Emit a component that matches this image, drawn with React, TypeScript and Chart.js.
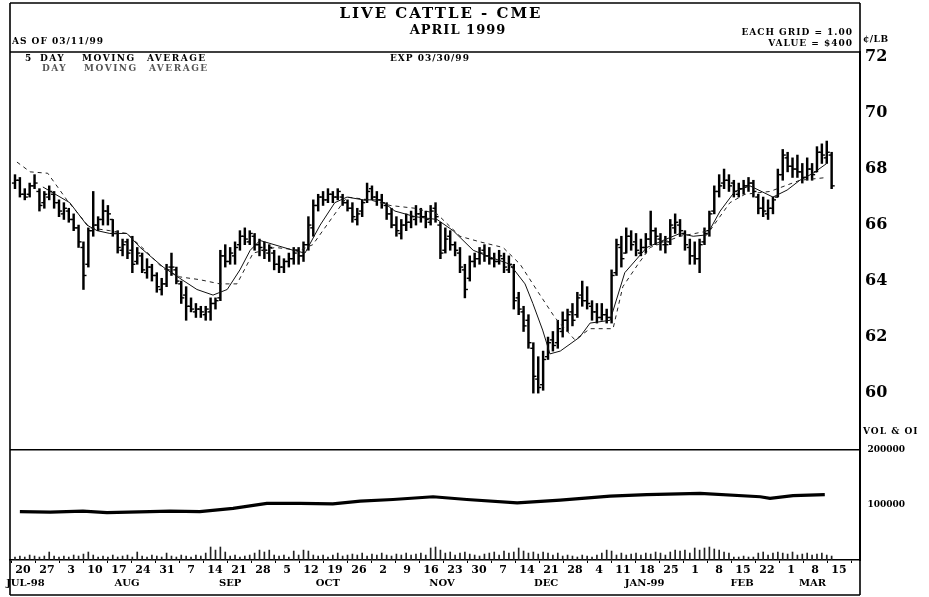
import React, { useEffect, useRef } from 'react';
import { Chart, registerables } from 'chart.js';

Chart.register(...registerables);

const FONT = '"DejaVu Serif", serif';

// ---- Daily OHLC (¢/lb), one entry per trading day, mid-Jul 1998 .. 11 Mar 1999 ----
const priceHigh = [67.8,67.7,67.3,67.5,67.8,67.3,67.2,67.4,67.2,66.9,
66.8,66.6,66.4,66.0,65.4,65.9,67.2,66.3,66.9,66.7,
66.2,65.8,65.5,65.5,65.6,65.2,65.0,64.8,64.6,64.3,
64.1,64.6,65.0,64.5,64.0,63.8,63.4,63.2,63.1,63.1,
63.4,63.4,65.1,65.3,65.2,65.4,65.8,65.9,65.8,65.7,
65.5,65.4,65.3,65.1,64.9,64.8,65.0,65.2,65.2,65.4,
66.3,66.9,67.1,67.2,67.3,67.2,67.3,67.1,66.9,66.8,
66.6,66.9,67.5,67.4,67.2,67.1,66.8,66.6,66.3,66.2,
66.4,66.5,66.7,66.6,66.5,66.7,66.8,66.1,65.9,65.8,
65.4,65.2,64.6,64.9,65.0,65.2,65.3,65.2,65.0,65.1,
65.0,64.9,64.6,63.6,63.1,62.8,61.8,61.3,61.5,62.0,
62.2,62.6,62.9,63.0,63.2,63.6,64.0,63.8,63.3,63.2,
63.2,63.0,64.4,65.5,65.6,65.9,65.8,65.7,65.5,65.7,
66.5,65.9,65.7,65.6,66.2,66.4,66.2,65.8,65.5,65.4,
65.5,65.9,66.5,67.4,67.8,68.0,67.8,67.6,67.5,67.6,
67.7,67.6,67.1,67.0,66.9,67.0,68.0,68.7,68.6,68.4,
68.5,68.2,68.4,68.2,68.8,68.9,69.0,68.6];

const priceLow = [67.3,67.0,66.9,67.0,67.3,66.5,66.6,66.9,66.6,66.3,
66.2,66.1,65.8,65.2,63.7,64.5,65.6,65.8,66.0,66.0,
65.6,65.0,64.9,64.8,64.3,64.6,64.3,64.1,64.0,63.6,
63.5,63.8,64.2,63.9,63.2,62.6,62.9,62.7,62.7,62.6,
62.6,63.0,63.3,64.5,64.6,64.6,65.1,65.3,65.3,65.1,
64.9,64.8,64.7,64.4,64.3,64.3,64.5,64.6,64.6,64.7,
65.1,65.6,66.5,66.7,66.8,66.8,66.9,66.7,66.5,66.1,
66.0,66.3,66.8,66.9,66.7,66.6,66.2,65.9,65.6,65.5,
65.8,65.9,66.0,66.1,65.9,66.0,66.1,64.8,65.0,65.1,
64.9,64.3,63.4,64.0,64.5,64.6,64.7,64.6,64.5,64.6,
64.3,64.3,63.0,62.8,62.2,61.6,60.0,60.0,60.1,61.2,
61.5,61.6,62.0,62.2,62.4,62.7,63.1,63.0,62.6,62.5,
62.6,62.5,62.5,64.2,64.5,65.0,65.1,64.9,64.9,65.0,
65.3,65.3,65.1,65.0,65.3,65.7,65.6,65.1,64.6,64.6,
64.3,65.3,65.6,66.4,67.0,67.3,67.2,67.0,67.0,67.1,
67.2,67.0,66.4,66.3,66.2,66.4,67.0,67.6,67.9,67.7,
67.7,67.5,67.6,67.6,67.9,68.2,68.2,67.3];

const priceOpen = [67.5,67.6,67.1,67.1,67.4,67.2,66.8,67.0,67.1,66.8,
66.4,66.5,66.2,65.9,65.2,64.6,65.8,66.0,66.2,66.5,
66.2,65.7,65.1,65.4,65.1,64.7,64.9,64.3,64.5,64.2,
63.7,63.9,64.5,64.4,63.9,63.5,63.1,62.9,63.0,62.8,
62.9,63.2,63.4,64.9,64.7,64.9,65.3,65.6,65.4,65.6,
65.3,65.1,65.0,65.0,64.6,64.5,64.7,64.8,65.1,64.9,
65.3,65.9,66.7,67.0,66.9,67.1,67.0,67.0,66.8,66.6,
66.2,66.5,66.9,67.3,67.0,66.9,66.7,66.4,66.0,65.7,
66.0,66.1,66.2,66.4,66.3,66.1,66.6,66.0,65.1,65.6,
65.3,65.0,64.4,64.1,64.7,64.8,65.1,64.9,64.8,64.7,
64.8,64.4,64.5,63.4,62.9,62.6,61.6,60.5,60.3,61.3,
61.9,61.8,62.2,62.6,62.9,62.8,63.5,63.3,63.1,62.9,
62.7,62.8,62.7,64.3,65.2,65.0,65.6,65.4,65.0,65.2,
65.5,65.8,65.5,65.3,65.4,65.9,66.0,65.7,65.2,64.9,
64.8,65.4,65.8,66.5,67.2,67.5,67.6,67.5,67.1,67.3,
67.4,67.5,67.0,66.6,66.4,66.6,67.0,67.8,68.4,68.1,
68.0,67.9,67.7,68.0,67.9,68.6,68.4,68.5];

const priceClose = [67.6,67.1,67.0,67.4,67.5,66.7,67.1,67.2,66.8,66.5,
66.6,66.2,65.9,65.4,64.2,65.8,66.0,66.2,66.5,66.4,
65.7,65.2,65.3,65.0,64.6,65.0,64.4,64.5,64.2,63.8,
63.9,64.4,64.5,64.0,63.4,63.1,63.0,63.0,62.9,63.0,
63.2,63.3,64.9,64.7,65.0,65.2,65.6,65.5,65.7,65.3,
65.2,65.1,65.2,64.6,64.5,64.7,64.8,65.0,64.9,65.3,
66.0,66.7,67.0,66.9,67.1,67.0,67.2,66.8,66.6,66.3,
66.4,66.8,67.2,67.0,66.9,66.8,66.4,66.0,65.8,66.0,
66.1,66.3,66.4,66.3,66.2,66.5,66.3,65.0,65.5,65.3,
65.1,64.5,63.7,64.7,64.8,65.0,64.9,64.8,64.7,64.9,
64.5,64.6,63.3,63.0,62.4,61.8,60.6,60.2,61.2,61.8,
61.7,62.3,62.6,62.8,62.6,63.4,63.3,63.2,62.9,62.7,
62.8,62.7,64.2,65.3,64.8,65.6,65.3,65.1,65.2,65.5,
65.8,65.6,65.4,65.3,66.0,66.1,65.8,65.3,64.9,64.8,
65.3,65.7,66.4,67.2,67.4,67.6,67.4,67.2,67.3,67.4,
67.5,67.2,66.6,66.5,66.6,66.9,67.8,68.5,68.1,68.0,
67.9,67.7,68.0,67.8,68.6,68.5,68.6,67.4];

// ---- Daily volume (contracts) ----
const volume = [5400,7200,5400,9000,7200,5400,7200,14500,7200,5400,
7200,5400,9000,7200,10800,14500,9000,5400,7200,5400,
9000,5400,7200,9000,5400,14500,7200,5400,9000,7200,
5400,12600,7200,5400,9000,7200,5400,9000,7200,12600,
23600,18000,23600,14500,7200,9000,5400,7200,9000,12600,
18000,14500,18000,9000,7200,9000,5400,16300,9000,18000,
16300,9000,7200,9000,5400,9000,12600,7200,9000,10800,
9000,12600,7200,10800,9000,12600,9000,7200,10800,9000,
12600,9000,10800,12600,9000,21800,23600,18000,12600,14500,
9000,12600,14500,10800,9000,7200,10800,12600,14500,9000,
16300,12600,14500,21800,16300,12600,14500,10800,14500,12600,
9000,12600,7200,9000,7200,5400,9000,7200,5400,9000,
12600,18000,16300,9000,12600,9000,10800,12600,9000,12600,
10800,14500,12600,9000,14500,18000,16300,18000,12600,21800,
18000,21800,23600,20000,18000,14500,12600,5400,5400,7200,
5400,5400,12600,14500,9000,12600,14500,12600,10800,14500,
9000,10800,12600,9000,10800,12600,9000,7200];

// ---- Open interest, read at sample days ----
const oiDay = [1,7.2,13.9,18.8,27.6,31.7,37.8,44.6,51.5,58.3,65,70.6,77.3,85.5,92.4,102.7,111.5,121.7,129.2,140.1,152.4,154.4,159.1,165.6];
const oiValue = [87800,87000,89000,86000,88000,89000,88000,94000,103000,103000,102000,107000,110000,115000,110000,104000,109000,116000,119000,121000,115000,112000,117000,119000];

// ---- Moving averages, read at sample days ----
const maFastDay = [5.7,11.2,14.7,16.8,19.4,22.9,25.6,30.3,33.7,37.2,40.5,43.4,46,48.1,50.1,56.9,59.3,62.4,65.4,67.9,71.2,74.6,77.7,81.8,86.3,89.6,93.7,96.5,101.2,104.3,105.9,107.9,109.4,111.5,115.5,117.6,121.7,124.7,129.2,132.5,136,138.7,141.5,144.2,147.2,150.3,155,157.9,160.5,163.2,166];
const maFastValue = [67.36,66.8,66.0,65.8,65.7,65.7,65.2,64.5,64.1,63.7,63.5,63.7,64.4,65.1,65.45,65.1,65.0,66.0,66.8,67.0,66.9,66.9,66.5,66.3,66.2,65.8,65.1,64.9,64.6,63.9,63.2,62.25,61.4,61.5,62.0,62.5,62.6,64.3,65.2,65.45,65.7,65.6,65.65,66.5,67.2,67.4,67.0,67.25,67.6,67.85,68.2];
const maSlowDay = [0.4,3.1,6.7,10.6,15.3,19.4,22.9,26.6,30.3,33.7,37.8,41.9,45.4,48.7,53.2,58.3,60.9,65.0,67.9,72.6,76.7,81.8,86.3,91.0,95.1,99.8,103.3,107.0,110.4,114.5,117.6,122.3,124.3,127.4,129.9,136.0,142.1,146.2,149.3,154.4,160.5,166.1];
const maSlowValue = [68.25,67.9,67.85,66.9,65.9,65.8,65.7,65.1,64.45,64.15,64.05,63.9,63.9,65.0,65.2,65.1,65.3,66.3,67.0,66.9,66.7,66.6,66.4,65.6,65.4,65.2,64.6,63.6,62.7,61.9,62.3,62.3,63.8,64.6,65.2,65.6,65.8,66.8,67.1,67.2,67.6,67.7];

// ---- Axis labels ----
const priceTicks = [60, 62, 64, 66, 68, 70, 72];
const volTicks = [100000, 200000];
const weekLabels = ['20','27','3','10','17','24','31','7','14','21','28','5','12','19','26','2','9','16','23','30','7','14','21','28','4','11','18','25','1','8','15','22','1','8','15'];
const weekPos = weekLabels.map((_, k) => k);
const monthLabels = ['JUL-98','AUG','SEP','OCT','NOV','DEC','JAN-99','FEB','MAR'];
const monthPos = [0.1, 4.33, 8.63, 12.7, 17.46, 21.8, 25.9, 29.96, 32.9];

export default function App() {
  const ref = useRef<HTMLCanvasElement>(null);

  useEffect(() => {
    const canvas = ref.current;
    if (!canvas) return;

    const framePlugin = {
      id: 'frame',
      afterDraw(chart: any) {
        const ctx = chart.ctx as CanvasRenderingContext2D;
        const area = chart.chartArea;
        const L = area.left, R = area.right;
        ctx.save();
        ctx.strokeStyle = '#000';
        ctx.lineWidth = 1.6;
        ctx.beginPath();
        ctx.moveTo(L, 3); ctx.lineTo(R, 3);
        ctx.moveTo(L, 3); ctx.lineTo(L, 595);
        ctx.moveTo(R, 3); ctx.lineTo(R, 595);
        ctx.moveTo(L, 595); ctx.lineTo(R, 595);
        ctx.moveTo(L, area.top); ctx.lineTo(R, area.top);
        ctx.stroke();

        ctx.fillStyle = '#000';
        ctx.textBaseline = 'middle';
        const put = (t: string, x: number, y: number, font: string, align: CanvasTextAlign, sp = '0px', color = '#000') => {
          ctx.font = font;
          (ctx as any).letterSpacing = sp;
          ctx.textAlign = align;
          ctx.fillStyle = color;
          ctx.fillText(t, x, y);
        };
        put('LIVE CATTLE - CME', 441, 14, `bold 15px ${FONT}`, 'center', '2px');
        put('APRIL 1999', 458, 31, `600 13px ${FONT}`, 'center', '1px');
        put('AS OF 03/11/99', 12, 42, `bold 9px ${FONT}`, 'left', '1px');
        put('EACH GRID = 1.00', 853, 33, `bold 9px ${FONT}`, 'right', '1px');
        put('VALUE = $400', 853, 44, `bold 9px ${FONT}`, 'right', '1px');
        put('¢/LB', 863, 40, `bold 9px ${FONT}`, 'left', '0.5px');
        put('EXP 03/30/99', 390, 59, `bold 9px ${FONT}`, 'left', '1px');
        const legendX = [25, 40, 82, 147];
        ['5', 'DAY', 'MOVING', 'AVERAGE'].forEach((w, k) =>
          put(w, legendX[k], 59, `bold 9px ${FONT}`, 'left', '1.5px'));
        ['DAY', 'MOVING', 'AVERAGE'].forEach((w, k) =>
          put(w, legendX[k + 1] + 2, 69, `bold 9px ${FONT}`, 'left', '1.5px', '#555'));
        put('VOL & OI', 863, 432, `bold 9px ${FONT}`, 'left', '1px');
        ctx.restore();
      },
    };

    const tickFont = (size: number) => ({ family: FONT, weight: 'bold' as const, size });

    const chart = new Chart(canvas, {
      type: 'bar',
      data: {
        datasets: [
          {
            type: 'line',
            label: 'Fast MA',
            data: maFastDay.map((d, k) => ({ x: d, y: maFastValue[k] })),
            xAxisID: 'x', yAxisID: 'yp',
            borderColor: '#111', borderWidth: 1, pointRadius: 0, tension: 0,
          },
          {
            type: 'line',
            label: 'Slow MA',
            data: maSlowDay.map((d, k) => ({ x: d, y: maSlowValue[k] })),
            xAxisID: 'x', yAxisID: 'yp',
            borderColor: '#222', borderWidth: 1, borderDash: [4, 4], pointRadius: 0, tension: 0,
          },
          {
            type: 'line',
            label: 'Open',
            data: priceOpen.map((o, i) => ({ x: i - 0.3, y: o })),
            xAxisID: 'x', yAxisID: 'yp',
            showLine: false, pointStyle: 'line', pointRadius: 1.6,
            pointBorderWidth: 1.4, borderColor: '#000', backgroundColor: '#000',
          },
          {
            type: 'line',
            label: 'Close',
            data: priceClose.map((c, i) => ({ x: i + 0.3, y: c })),
            xAxisID: 'x', yAxisID: 'yp',
            showLine: false, pointStyle: 'line', pointRadius: 1.6,
            pointBorderWidth: 1.4, borderColor: '#000', backgroundColor: '#000',
          },
          {
            type: 'bar',
            label: 'High-Low',
            data: priceHigh.map((h, i) => ({ x: i, y: [priceLow[i], h] })) as any,
            xAxisID: 'x', yAxisID: 'yp',
            backgroundColor: '#000', barThickness: 1.8, grouped: false,
          },
          {
            type: 'line',
            label: 'Open interest',
            data: oiDay.map((d, k) => ({ x: d, y: oiValue[k] })),
            xAxisID: 'x', yAxisID: 'yv',
            borderColor: '#000', borderWidth: 3.2, pointRadius: 0, tension: 0,
          },
          {
            type: 'bar',
            label: 'Volume',
            data: volume.map((v, i) => ({ x: i, y: v })) as any,
            xAxisID: 'x', yAxisID: 'yv',
            backgroundColor: '#222', barThickness: 1, grouped: false,
          },
        ] as any,
      },
      options: {
        responsive: false,
        animation: false,
        devicePixelRatio: 1,
        layout: { padding: { left: 10, top: 52, right: 0, bottom: 0 } },
        plugins: { legend: { display: false }, tooltip: { enabled: false } },
        scales: {
          x: {
            type: 'linear', display: false, offset: false,
            min: -1.02, max: 172.8,
          },
          xw: {
            type: 'linear', position: 'bottom', offset: false,
            min: -0.5417, max: 34.875,
            afterBuildTicks: (s: any) => { s.ticks = weekPos.map((v) => ({ value: v })); },
            afterFit: (s: any) => { s.height = 16; },
            ticks: {
              autoSkip: false, maxRotation: 0, minRotation: 0, padding: 1,
              color: '#000', font: tickFont(11),
              callback: (v: any) => weekLabels[Math.round(Number(v))] ?? '',
            },
            grid: { drawOnChartArea: false, drawTicks: true, tickLength: 3, color: '#000', lineWidth: 1 },
            border: { display: true, color: '#000', width: 1.6 },
          },
          xm: {
            type: 'linear', position: 'bottom', offset: false,
            min: -0.5417, max: 34.875,
            afterBuildTicks: (s: any) => { s.ticks = monthPos.map((v) => ({ value: v })); },
            afterFit: (s: any) => { s.height = 21; },
            ticks: {
              autoSkip: false, maxRotation: 0, minRotation: 0, padding: 1,
              color: '#000', font: tickFont(10),
              callback: (_v: any, i: number) => monthLabels[i],
            },
            grid: { display: false, drawTicks: false },
            border: { display: false },
          },
          yp: {
            type: 'linear', position: 'right',
            min: 54.04, max: 72.18,
            afterBuildTicks: (s: any) => { s.ticks = priceTicks.map((v) => ({ value: v })); },
            afterFit: (s: any) => { s.width = 69; },
            ticks: { color: '#000', font: tickFont(16), padding: 5, callback: (v: any) => String(v) },
            grid: { display: false, drawTicks: false },
            border: { display: true, color: '#000', width: 2 },
          },
          yv: {
            type: 'linear', position: 'right',
            min: 0, max: 923636,
            afterBuildTicks: (s: any) => { s.ticks = volTicks.map((v) => ({ value: v })); },
            afterFit: (s: any) => { s.width = 0; },
            ticks: {
              color: '#000', font: tickFont(9), padding: -24, mirror: true, crossAlign: 'near',
              callback: (v: any) => String(v),
            },
            grid: {
              drawTicks: false, lineWidth: 1.6,
              color: (c: any) => (c.tick && c.tick.value === 200000 ? '#000' : 'rgba(0,0,0,0)'),
            },
            border: { display: false },
          },
        },
      } as any,
      plugins: [framePlugin],
    });

    return () => chart.destroy();
  }, []);

  return (
    <div style={{ position: 'absolute', left: 0, top: 0, width: 929, height: 597, background: '#fff' }}>
      <canvas ref={ref} width={929} height={597} style={{ display: 'block' }} />
    </div>
  );
}
